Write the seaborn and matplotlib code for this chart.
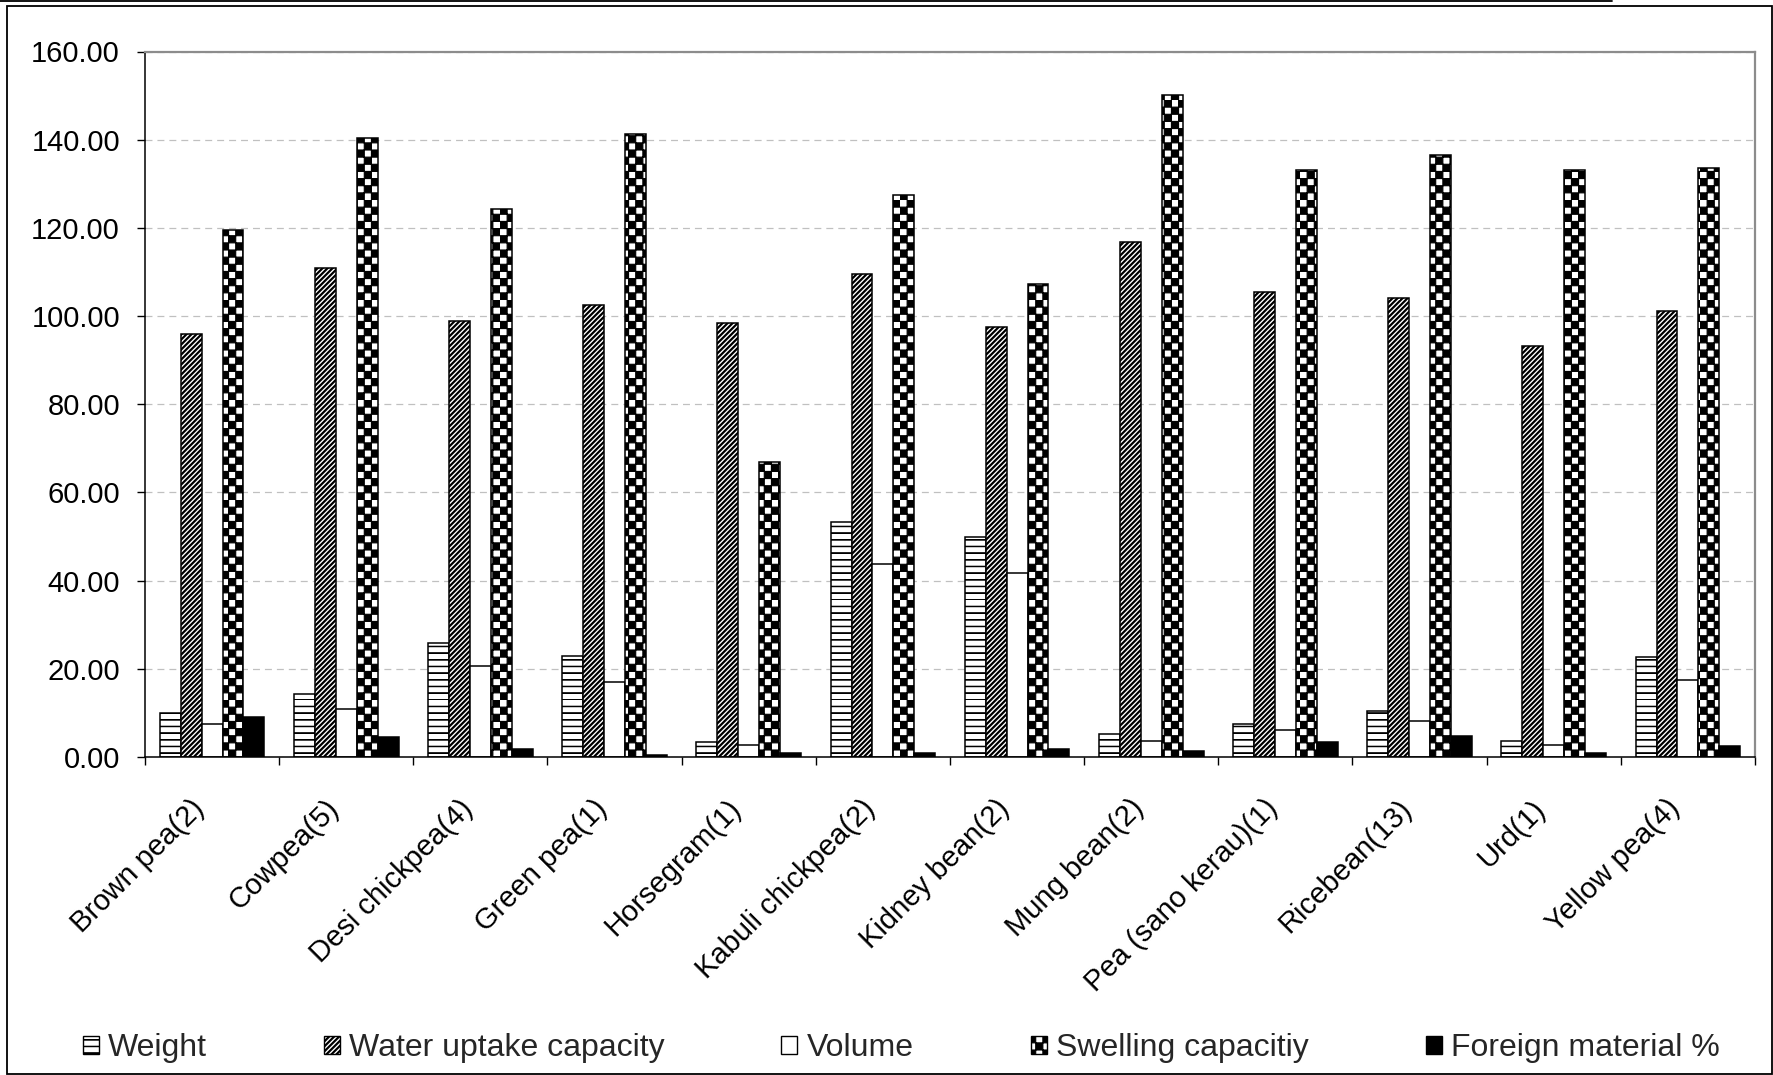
import warnings
import numpy as np
import pandas as pd
import matplotlib
matplotlib.use("Agg")
import matplotlib.pyplot as plt
import matplotlib.hatch as mhatch
from matplotlib.path import Path
from matplotlib.patches import Patch, Rectangle
from matplotlib.lines import Line2D
from matplotlib.ticker import FixedLocator, FormatStrFormatter
from matplotlib.transforms import ScaledTranslation
import seaborn as sns

warnings.filterwarnings("ignore")

# ---------------- data ----------------
categories = ["Brown pea(2)", "Cowpea(5)", "Desi chickpea(4)", "Green pea(1)",
              "Horsegram(1)", "Kabuli chickpea(2)", "Kidney bean(2)", "Mung bean(2)",
              "Pea (sano kerau)(1)", "Ricebean(13)", "Urd(1)", "Yellow pea(4)"]
series = ["Weight", "Water uptake capacity", "Volume", "Swelling capacitiy",
          "Foreign material %"]
weight = [9.9, 14.2, 25.8, 23.0, 3.3, 53.2, 49.9, 5.2, 7.5, 10.4, 3.7, 22.6]
water_uptake = [96.0, 111.0, 98.8, 102.5, 98.4, 109.6, 97.5, 116.7, 105.4, 104.0, 93.2, 101.1]
volume = [7.4, 10.8, 20.6, 16.9, 2.8, 43.7, 41.8, 3.7, 6.1, 8.1, 2.8, 17.5]
swelling = [119.5, 140.3, 124.3, 141.3, 66.8, 127.5, 107.2, 150.2, 133.2, 136.5, 133.2, 133.6]
foreign = [9.0, 4.6, 1.9, 0.5, 0.9, 1.0, 1.9, 1.4, 3.3, 4.7, 0.9, 2.5]
yticks = [0, 20, 40, 60, 80, 100, 120, 140, 160]

values = [weight, water_uptake, volume, swelling, foreign]
df = pd.DataFrame({
    "Variety": np.tile(categories, len(series)),
    "Parameter": np.repeat(series, len(categories)),
    "Value": np.concatenate(values),
})

_POLY = [Path.MOVETO, Path.LINETO, Path.LINETO, Path.LINETO, Path.CLOSEPOLY]


# ---------------- custom hatches (Excel-like patterns) ----------------
class CheckerHatch(mhatch.HatchPatternBase):
    """'c' -> checkerboard of filled squares."""
    def __init__(self, hatch, density):
        self.num = 7 * hatch.count('c')
        self.num_vertices = self.num * self.num * 2 * 5
        self.filled = True

    def set_vertices_and_codes(self, vertices, codes):
        n2 = 2 * self.num
        s = 1.0 / n2
        verts = []
        for i in range(n2):
            for j in range(n2):
                if (i + j) % 2 == 0:
                    x0, y0 = i * s, j * s
                    verts.append([[x0, y0], [x0 + s, y0], [x0 + s, y0 + s],
                                  [x0, y0 + s], [x0, y0]])
        vertices[:] = np.array(verts).reshape(-1, 2)
        codes[:] = np.tile(_POLY, len(verts))


class HBandHatch(mhatch.HatchPatternBase):
    """'h' -> thin horizontal bands, 15 per inch."""
    def __init__(self, hatch, density):
        self.num = 15 * hatch.count('h')
        self.num_vertices = self.num * 5
        self.filled = True

    def set_vertices_and_codes(self, vertices, codes):
        t = 0.004
        verts = []
        for y0 in np.arange(self.num) / self.num:
            verts.append([[0, y0], [1, y0], [1, y0 + t], [0, y0 + t], [0, y0]])
        vertices[:] = np.array(verts).reshape(-1, 2)
        codes[:] = np.tile(_POLY, len(verts))


class DBandHatch(mhatch.HatchPatternBase):
    """'d' -> filled upward diagonal bands, 20 per inch."""
    def __init__(self, hatch, density):
        self.num = 20 * hatch.count('d')
        self.num_vertices = 2 * self.num * 5
        self.filled = True

    def set_vertices_and_codes(self, vertices, codes):
        w = 0.3 / self.num
        verts = []
        for x0 in np.arange(-self.num, self.num) / self.num:
            verts.append([[x0, 0], [x0 + w, 0], [x0 + w + 1, 1], [x0 + 1, 1], [x0, 0]])
        vertices[:] = np.array(verts).reshape(-1, 2)
        codes[:] = np.tile(_POLY, len(verts))


mhatch._hatch_types.extend([CheckerHatch, HBandHatch, DBandHatch])

# ---------------- style ----------------
sns.set_theme(style="white")
plt.rcParams["font.family"] = ["Liberation Sans", "DejaVu Sans"]
plt.rcParams["hatch.linewidth"] = 0.8
plt.rcParams["lines.scale_dashes"] = False

hatches = ["h", "d", "", "c", ""]
faces = ["white", "white", "white", "white", "black"]

fig = plt.figure(figsize=(17.74, 10.75), dpi=100)
ax = fig.add_axes([145 / 1774, 1 - 757 / 1075, (1755 - 145) / 1774, (757 - 51.5) / 1075])

sns.barplot(data=df, x="Variety", y="Value", hue="Parameter", order=categories,
            hue_order=series, palette=faces, saturation=1, width=0.78,
            edgecolor="black", linewidth=1.1, legend=False, ax=ax, errorbar=None)

for cont, h, fc in zip(ax.containers, hatches, faces):
    for p in cont.patches:
        p.set_facecolor(fc)
        p.set_edgecolor("black")
        p.set_linewidth(1.1)
        if h:
            p.set_hatch(h)

ax.set_ylim(0, 160)
ax.set_xlim(-0.5, len(categories) - 0.5)
ax.set_yticks(yticks)
ax.yaxis.set_major_formatter(FormatStrFormatter("%.2f"))
ax.set_xlabel("")
ax.set_ylabel("")

ax.yaxis.grid(True, linestyle=(0, (5, 3.6)), color="#c0c0c0", linewidth=0.9)
ax.set_axisbelow(True)

for side in ["left", "bottom"]:
    ax.spines[side].set_color("black")
    ax.spines[side].set_linewidth(1.1)
for side in ["top", "right"]:
    ax.spines[side].set_color("#8c8c8c")
    ax.spines[side].set_linewidth(1.6)

ax.tick_params(axis="y", which="major", left=True, length=6, width=1.0,
               color="black", pad=12, labelsize=21, labelcolor="black")
ax.xaxis.set_minor_locator(FixedLocator(np.arange(-0.5, len(categories), 1.0)))
ax.tick_params(axis="x", which="minor", bottom=True, length=6, width=1.0, color="black")
ax.tick_params(axis="x", which="major", bottom=True, length=0, pad=34,
               labelsize=21, labelcolor="black")
shift = ScaledTranslation(-0.12, 0, fig.dpi_scale_trans)
for lab in ax.get_xticklabels():
    lab.set_rotation(45)
    lab.set_ha("right")
    lab.set_va("center")
    lab.set_rotation_mode("anchor")
    lab.set_transform(lab.get_transform() + shift)

# ---------------- legend ----------------
handles = [Patch(facecolor=fc, edgecolor="black", hatch=h, linewidth=1.0)
           for h, fc in zip(hatches, faces)]
fig.legend(handles, series, loc="center", bbox_to_anchor=(0.508, 1 - 1048 / 1075),
           ncol=5, frameon=False, fontsize=23, handlelength=0.5, handleheight=0.5,
           handletextpad=0.3, columnspacing=3.65, borderaxespad=0)

# ---------------- page frame ----------------
fig.add_artist(Rectangle((7 / 1774, 1 - 1073.5 / 1075), (1772 - 7) / 1774,
                         (1073.5 - 5.5) / 1075, transform=fig.transFigure,
                         fill=False, edgecolor="black", linewidth=1.3))
fig.add_artist(Line2D([0, 1612 / 1774], [1 - 1 / 1075, 1 - 1 / 1075],
                      transform=fig.transFigure, color="black", linewidth=1.3))

fig.savefig("out.png", dpi=100, facecolor="white")
